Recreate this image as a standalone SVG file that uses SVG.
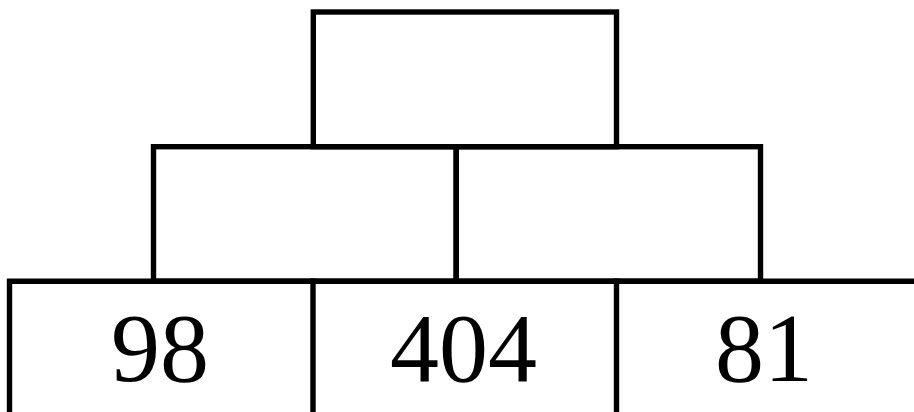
<svg xmlns="http://www.w3.org/2000/svg" width="914" height="412" viewBox="0 0 914 412">
<style>
.box{fill:none;stroke:#000;stroke-width:5.4;stroke-linecap:square}
.num{font-family:"Liberation Serif","Times New Roman",serif;font-size:98px;fill:#000;text-anchor:middle}
</style>
<rect width="914" height="412" fill="#fff"/>
<g id="top"><rect class="box" x="313.3" y="12" width="303.2" height="134.7"/></g>
<g id="mid-left"><rect class="box" x="153.5" y="146.7" width="302.7" height="134.5"/></g>
<g id="mid-right"><rect class="box" x="456.2" y="146.7" width="304.3" height="134.5"/></g>
<g id="bottom-left"><path class="box" d="M9.5,414 V281.2 H313"/><text class="num" x="160" y="381">98</text></g>
<g id="bottom-mid"><path class="box" d="M313,414 V281.2 H616.5"/><text class="num" x="463.5" y="381">404</text></g>
<g id="bottom-right"><path class="box" d="M616.5,414 V281.2 H918"/><text class="num" x="764" y="381">81</text></g>
<g id="connectors"></g>
</svg>
